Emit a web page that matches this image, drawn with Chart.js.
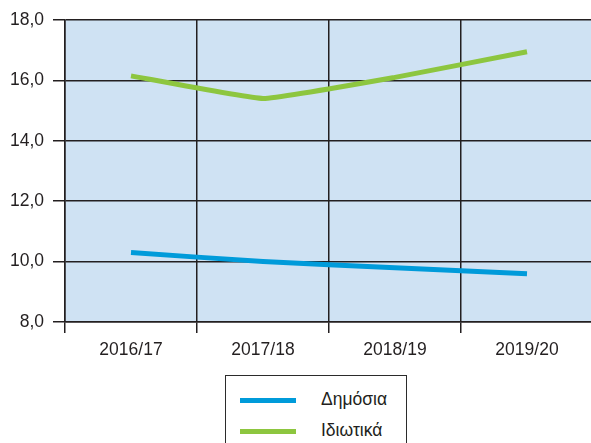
<!DOCTYPE html>
<html lang="el">
<head>
<meta charset="utf-8">
<title>Δημόσια και Ιδιωτικά</title>
<script src="https://cdn.jsdelivr.net/npm/chart.js@4.4.1/dist/chart.umd.min.js"></script>
<style>
  html, body { margin: 0; padding: 0; background: #ffffff; overflow: hidden; width: 591px; height: 443px; }
  #wrap { position: relative; width: 591px; height: 443px; overflow: hidden; }
  #chart { position: absolute; left: 0; top: 0; }
  #legend {
    position: absolute; left: 225px; top: 375px; width: 182px; height: 90px;
    border: 1.5px solid #2b2b2b; box-sizing: border-box;
    font-family: "Liberation Sans", Arial, sans-serif; font-size: 17.5px; color: #231f20;
  }
  .item { position: absolute; left: 0; height: 20px; width: 100%; }
  .swatch { position: absolute; left: 14px; top: 9px; width: 56px; height: 5px; }
  .label { position: absolute; left: 95px; top: 0; line-height: 20px; white-space: nowrap; }
</style>
</head>
<body>
<div id="wrap">
  <canvas id="chart" width="600" height="375"></canvas>
  <div id="legend"></div>
</div>
<script>
// School years on the horizontal axis
const years = ['2016/17', '2017/18', '2018/19', '2019/20'];

// Series values
const publicValues = [10.3, 10.0, 9.8, 9.6];
const privateValues = [16.15, 15.4, 16.1, 16.95];

// Series names
const seriesNames = ['Δημόσια', 'Ιδιωτικά'];

// Vertical axis ticks
const yTicks = [8, 10, 12, 14, 16, 18];

const colors = {
  public: 'rgb(0,155,218)',
  private: 'rgb(141,198,63)',
  plotBg: 'rgb(207,226,243)',
  grid: '#231f20',
  text: '#231f20'
};

const fontSpec = { family: '"Liberation Sans", Arial, sans-serif', size: 17.5 };

// Fill the plotting area behind the grid
const plotBackground = {
  id: 'plotBackground',
  beforeDraw(chart) {
    const { ctx, chartArea: a } = chart;
    ctx.save();
    ctx.fillStyle = colors.plotBg;
    ctx.fillRect(a.left, a.top, a.right - a.left, a.bottom - a.top);
    ctx.restore();
  }
};

const chart = new Chart(document.getElementById('chart'), {
  type: 'line',
  data: {
    labels: years,
    datasets: [
      {
        label: seriesNames[0],
        data: publicValues,
        borderColor: colors.public,
        backgroundColor: colors.public,
        borderWidth: 5,
        tension: 0.1,
        pointRadius: 0,
        borderCapStyle: 'butt'
      },
      {
        label: seriesNames[1],
        data: privateValues,
        borderColor: colors.private,
        backgroundColor: colors.private,
        borderWidth: 5,
        tension: 0.1,
        pointRadius: 0,
        borderCapStyle: 'butt'
      }
    ]
  },
  options: {
    responsive: false,
    animation: false,
    devicePixelRatio: 1,
    layout: { padding: { top: 20, right: 7, left: 0, bottom: 0 } },
    plugins: {
      legend: { display: false },
      tooltip: { enabled: false }
    },
    scales: {
      x: {
        offset: true,
        grid: {
          offset: true,
          color: colors.grid,
          lineWidth: 1.5,
          drawTicks: true,
          tickLength: 11
        },
        border: { color: colors.grid, width: 1.5 },
        ticks: {
          color: colors.text,
          font: fontSpec,
          padding: 7,
          maxRotation: 0
        },
        afterFit(scale) { scale.height = 53; }
      },
      y: {
        min: yTicks[0],
        max: yTicks[yTicks.length - 1],
        afterBuildTicks(scale) {
          scale.ticks = yTicks.map(v => ({ value: v }));
        },
        grid: {
          color: colors.grid,
          lineWidth: 1.5,
          drawTicks: true,
          tickLength: 12
        },
        border: { color: colors.grid, width: 1.5 },
        ticks: {
          color: colors.text,
          font: fontSpec,
          padding: 9,
          callback: v => v.toFixed(1).replace('.', ',')
        },
        afterFit(scale) { scale.width = 65; }
      }
    }
  },
  plugins: [plotBackground]
});

// Legend box built from the datasets
const legend = document.getElementById('legend');
chart.data.datasets.forEach((ds, i) => {
  const item = document.createElement('div');
  item.className = 'item';
  item.style.top = (13 + i * 31) + 'px';
  const sw = document.createElement('div');
  sw.className = 'swatch';
  sw.style.background = ds.borderColor;
  const lb = document.createElement('div');
  lb.className = 'label';
  lb.textContent = ds.label;
  item.appendChild(sw);
  item.appendChild(lb);
  legend.appendChild(item);
});
</script>
</body>
</html>
